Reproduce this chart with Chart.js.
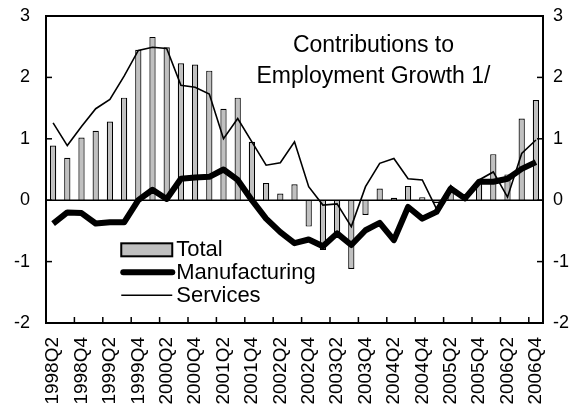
<!DOCTYPE html>
<html>
<head>
<meta charset="utf-8">
<script src="https://cdn.jsdelivr.net/npm/chart.js@4/dist/chart.umd.min.js"></script>
<style>
  html, body { margin: 0; padding: 0; background: #fff; }
  #wrap { width: 582px; height: 416px; }
</style>
</head>
<body>
<div id="wrap"><canvas id="emp_chart" width="582" height="416"></canvas></div>
<script>
var quarters = ['1998Q2','1998Q3','1998Q4','1999Q1','1999Q2','1999Q3','1999Q4',
  '2000Q1','2000Q2','2000Q3','2000Q4','2001Q1','2001Q2','2001Q3','2001Q4',
  '2002Q1','2002Q2','2002Q3','2002Q4','2003Q1','2003Q2','2003Q3','2003Q4',
  '2004Q1','2004Q2','2004Q3','2004Q4','2005Q1','2005Q2','2005Q3','2005Q4',
  '2006Q1','2006Q2','2006Q3','2006Q4'];
var total = [0.89, 0.69, 1.02, 1.13, 1.28, 1.67, 2.45, 2.66, 2.49, 2.23, 2.21, 2.11,
  1.49, 1.67, 0.95, 0.28, 0.11, 0.26, -0.43, -0.81, -0.6, -1.12, -0.24, 0.19,
  0.04, 0.23, 0.05, -0.05, 0.15, 0.05, 0.3, 0.75, 0.42, 1.33, 1.63];
var manufacturing = [-0.38, -0.2, -0.21, -0.38, -0.36, -0.36, 0.0, 0.17, 0.02, 0.35, 0.37, 0.38,
  0.5, 0.33, 0.0, -0.3, -0.52, -0.7, -0.64, -0.75, -0.54, -0.73, -0.49, -0.37,
  -0.65, -0.11, -0.3, -0.19, 0.19, 0.03, 0.3, 0.3, 0.35, 0.51, 0.62];
var services = [1.26, 0.89, 1.2, 1.49, 1.64, 2.02, 2.44, 2.49, 2.47, 1.87, 1.84, 1.73,
  1.0, 1.33, 0.95, 0.57, 0.61, 0.95, 0.22, -0.08, -0.06, -0.43, 0.22, 0.6,
  0.68, 0.35, 0.33, -0.14, 0.24, 0.0, 0.33, 0.46, 0.05, 0.76, 0.98];
var title_lines = ['Contributions to', 'Employment Growth 1/'];

var FONT = '"Liberation Sans", Arial, sans-serif';

function no_pad(s) {
  s.paddingTop = 0; s.paddingBottom = 0; s.paddingLeft = 0; s.paddingRight = 0;
}

// box, inward ticks, title and legend drawn on top of the plot
var frame_plugin = {
  id: 'frame',
  afterDatasetsDraw: function (chart) {
    var ctx = chart.ctx, a = chart.chartArea;
    var xs = chart.scales.x, yl = chart.scales.y, yr = chart.scales.y2;
    ctx.save();
    // zero line
    ctx.strokeStyle = '#000';
    ctx.lineWidth = 1.5;
    var y0 = yl.getPixelForValue(0);
    ctx.beginPath(); ctx.moveTo(a.left, y0); ctx.lineTo(a.right, y0); ctx.stroke();
    // frame
    ctx.lineWidth = 2;
    ctx.strokeRect(a.left, a.top, a.right - a.left, a.bottom - a.top);
    // y ticks, inward
    ctx.lineWidth = 1.5;
    for (var v = yl.min; v <= yl.max; v++) {
      var py = yl.getPixelForValue(v);
      ctx.beginPath(); ctx.moveTo(a.left, py); ctx.lineTo(a.left + 6, py); ctx.stroke();
      var pr = yr.getPixelForValue(v);
      ctx.beginPath(); ctx.moveTo(a.right, pr); ctx.lineTo(a.right - 6, pr); ctx.stroke();
    }
    // x ticks between every second quarter, inward
    for (var i = 2; i < quarters.length; i += 2) {
      var px = (xs.getPixelForValue(i - 1) + xs.getPixelForValue(i)) / 2;
      ctx.beginPath(); ctx.moveTo(px, a.bottom); ctx.lineTo(px, a.bottom - 6); ctx.stroke();
    }
    // title
    ctx.fillStyle = '#000';
    ctx.font = '23px ' + FONT;
    ctx.textAlign = 'center';
    ctx.textBaseline = 'middle';
    var tx = xs.getPixelForValue(22.56);
    ctx.fillText(title_lines[0], tx, a.top + 30);
    ctx.fillText(title_lines[1], tx, a.top + 61);
    // legend
    var ds = chart.data.datasets;
    var lx = xs.getPixelForValue(4.8), ly = yl.getPixelForValue(-0.8), gap = 23;
    ctx.font = '22px ' + FONT;
    ctx.textAlign = 'left';
    ctx.fillStyle = ds[0].backgroundColor;
    ctx.fillRect(lx, ly - 6, 51, 13);
    ctx.strokeStyle = '#000'; ctx.lineWidth = 2;
    ctx.strokeRect(lx, ly - 6, 51, 13);
    ctx.fillStyle = '#000';
    ctx.fillText(ds[0].label, lx + 55, ly + 1);
    ctx.lineCap = 'round';
    ctx.lineWidth = ds[1].borderWidth;
    ctx.beginPath(); ctx.moveTo(lx + 2, ly + gap); ctx.lineTo(lx + 51, ly + gap); ctx.stroke();
    ctx.fillText(ds[1].label, lx + 55, ly + gap + 1);
    ctx.lineCap = 'butt';
    ctx.lineWidth = ds[2].borderWidth;
    ctx.beginPath(); ctx.moveTo(lx, ly + 2 * gap); ctx.lineTo(lx + 51, ly + 2 * gap); ctx.stroke();
    ctx.fillText(ds[2].label, lx + 55, ly + 2 * gap + 1);
    ctx.restore();
  }
};

window.onload = function () {
  var ctx = document.getElementById('emp_chart').getContext('2d');
  new Chart(ctx, {
    type: 'bar',
    data: {
      labels: quarters,
      datasets: [
        {
          type: 'bar', label: 'Total', data: total,
          backgroundColor: '#c0c0c0', borderColor: '#000', borderWidth: 1.2,
          barPercentage: 0.44, categoryPercentage: 1.0, order: 3
        },
        {
          type: 'line', label: 'Manufacturing', data: manufacturing,
          borderColor: '#000', borderWidth: 6, pointRadius: 0, tension: 0,
          borderJoinStyle: 'round', fill: false, order: 2
        },
        {
          type: 'line', label: 'Services', data: services,
          borderColor: '#000', borderWidth: 1.6, pointRadius: 0, tension: 0,
          fill: false, order: 1
        }
      ]
    },
    options: {
      responsive: false,
      animation: false,
      layout: { padding: { top: 16, left: 0, right: 0, bottom: 0 } },
      plugins: { legend: { display: false }, tooltip: { enabled: false }, title: { display: false } },
      scales: {
        x: {
          offset: true,
          grid: { display: false, drawTicks: false },
          border: { display: false },
          ticks: {
            autoSkip: false, maxRotation: 90, minRotation: 90, padding: 14,
            color: '#000', font: { family: FONT, size: 19 },
            callback: function (val, idx) { return idx % 2 === 0 ? quarters[idx] : ''; }
          },
          afterFit: function (s) { s.height = 93; no_pad(s); }
        },
        y: {
          position: 'left', min: -2, max: 3,
          grid: { display: false, drawTicks: false },
          border: { display: false },
          ticks: { stepSize: 1, padding: 16, color: '#000', font: { family: FONT, size: 18 } },
          afterFit: function (s) { s.width = 46; no_pad(s); }
        },
        y2: {
          position: 'right', min: -2, max: 3,
          grid: { display: false, drawTicks: false },
          border: { display: false },
          ticks: { stepSize: 1, padding: 10, color: '#000', font: { family: FONT, size: 18 } },
          afterFit: function (s) { s.width = 39; no_pad(s); }
        }
      }
    },
    plugins: [frame_plugin]
  });
};
</script>
</body>
</html>
